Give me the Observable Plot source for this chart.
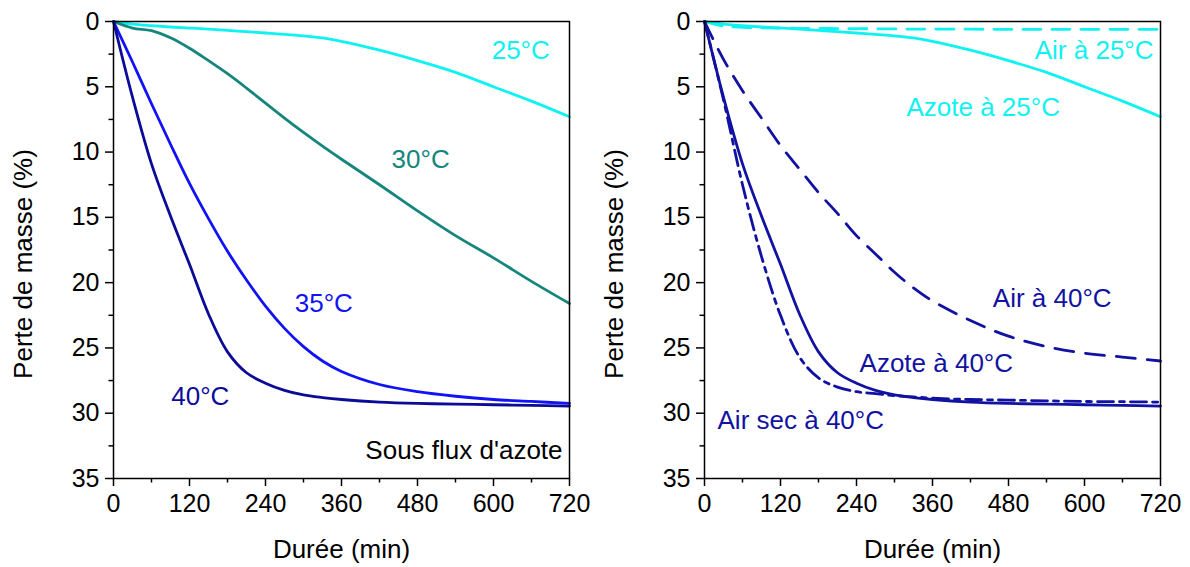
<!DOCTYPE html>
<html><head><meta charset="utf-8">
<script src="https://cdn.jsdelivr.net/npm/d3@7"></script>
<script src="https://cdn.jsdelivr.net/npm/@observablehq/plot@0.6"></script>
<style>
body{margin:0;background:#fff;}
#wrap{display:flex;width:1190px;height:567px;}
</style>
</head><body><div id="wrap"></div>
<script>
// Time grid (min)
const times    = [0, 30, 60, 90, 120, 150, 180, 210, 240, 270, 300, 330, 360, 420, 480, 540, 600, 660, 720];
// Mass loss (%) — under nitrogen
const azote25  = [0, 0.2, 0.32, 0.42, 0.5, 0.58, 0.68, 0.78, 0.88, 0.98, 1.1, 1.26, 1.52, 2.2, 3.0, 3.9, 5.0, 6.1, 7.3];
const azote30  = [0, 0.5, 0.7, 1.25, 2.05, 3.0, 4.0, 5.1, 6.25, 7.4, 8.5, 9.55, 10.55, 12.5, 14.5, 16.4, 18.1, 19.9, 21.6];
const azote35  = [0, 3.1, 6.3, 9.4, 12.4, 15.1, 17.6, 19.8, 21.8, 23.5, 24.9, 26.0, 26.8, 27.8, 28.35, 28.7, 28.95, 29.1, 29.25];
const azote40  = [0, 5.8, 10.9, 14.9, 18.6, 22.4, 25.3, 26.9, 27.7, 28.25, 28.6, 28.8, 28.95, 29.15, 29.25, 29.3, 29.35, 29.4, 29.45];
// Mass loss (%) — under air
const air25    = [0, 0.35, 0.45, 0.48, 0.5, 0.52, 0.53, 0.54, 0.55, 0.56, 0.57, 0.58, 0.58, 0.59, 0.6, 0.6, 0.6, 0.6, 0.6];
const air40    = [0, 2.9, 5.3, 7.4, 9.5, 11.3, 13.1, 14.7, 16.4, 17.8, 19.2, 20.4, 21.4, 22.9, 24.1, 24.9, 25.4, 25.7, 26.0];
const airSec40 = [0, 6.0, 12.5, 18.0, 22.5, 25.7, 27.3, 28.0, 28.35, 28.5, 28.65, 28.75, 28.85, 28.95, 29.0, 29.05, 29.1, 29.12, 29.15];

const xTicks = [0, 120, 240, 360, 480, 600, 720];
const xMinor = [60, 180, 300, 420, 540, 660];
const yTicks = [0, 5, 10, 15, 20, 25, 30, 35];
const yMinor = [2.5, 7.5, 12.5, 17.5, 22.5, 27.5, 32.5];

const xTitle = "Durée (min)";
const yTitle = "Perte de masse (%)";

const C = {cyan: "#0ff2f2", teal: "#14867c", blue: "#1212f6", navy: "#0b0b98", navy2: "#1212a2"};
const FONT = "'Liberation Sans', Arial, Helvetica, sans-serif";

const leftLabels = [
  {text: "25°C", t: 643, v: 2.2, color: C.cyan, anchor: "middle"},
  {text: "30°C", t: 485, v: 10.6, color: C.teal, anchor: "middle"},
  {text: "35°C", t: 332, v: 21.6, color: C.blue, anchor: "middle"},
  {text: "40°C", t: 137, v: 28.7, color: C.navy, anchor: "middle"},
  {text: "Sous flux d'azote", t: 709, v: 32.85, color: "black", anchor: "end"}
];
const rightLabels = [
  {text: "Air à 25°C", t: 709, v: 2.2, color: C.cyan, anchor: "end"},
  {text: "Azote à 25°C", t: 440, v: 6.6, color: C.cyan, anchor: "middle"},
  {text: "Air à 40°C", t: 549, v: 21.2, color: C.navy2, anchor: "middle"},
  {text: "Azote à 40°C", t: 366, v: 26.2, color: C.navy2, anchor: "middle"},
  {text: "Air sec à 40°C", t: 152, v: 30.6, color: C.navy2, anchor: "middle"}
];

function panel(series, labels, mLeft, mRight) {
  const marks = [
    Plot.axisX(xTicks, {tickSize: 8, tickPadding: 8, fontSize: 25, strokeWidth: 1.5, label: null}),
    Plot.axisX(xMinor, {tickSize: 4.5, strokeWidth: 1.5, tickFormat: () => "", label: null}),
    Plot.axisY(yTicks, {tickSize: 8, tickPadding: 6, fontSize: 25, strokeWidth: 1.5, label: null}),
    Plot.axisY(yMinor, {tickSize: 4.5, strokeWidth: 1.5, tickFormat: () => "", label: null}),
    Plot.text([xTitle], {frameAnchor: "bottom", text: d => d, dy: 71, fontSize: 26, lineAnchor: "middle", textAnchor: "middle", fill: "black"}),
    Plot.text([yTitle], {frameAnchor: "left", text: d => d, dx: -90, dy: 14, rotate: -90, fontSize: 26, lineAnchor: "middle", textAnchor: "middle", fill: "black"})
  ];
  for (const s of series) {
    marks.push(Plot.line(times, {x: times, y: s.values, stroke: s.color, strokeWidth: 2.8,
      curve: "catmull-rom", strokeDasharray: s.dash || null}));
  }
  for (const l of labels) {
    marks.push(Plot.text([l], {x: "t", y: "v", text: "text", fill: l.color, fontSize: 26,
      textAnchor: l.anchor, lineAnchor: "middle"}));
  }
  marks.push(Plot.frame({stroke: "black", strokeWidth: 1.5}));
  return Plot.plot({
    width: 595, height: 567,
    marginLeft: mLeft, marginRight: mRight, marginTop: 21, marginBottom: 89,
    x: {domain: [0, 720]},
    y: {domain: [0, 35], reverse: true},
    style: {fontFamily: FONT, fontSize: "25px", color: "black", background: "white", overflow: "visible"},
    marks
  });
}

const wrap = document.getElementById("wrap");
wrap.append(panel([
  {values: azote25, color: C.cyan},
  {values: azote30, color: C.teal},
  {values: azote35, color: C.blue},
  {values: azote40, color: C.navy}
], leftLabels, 113, 26));
wrap.append(panel([
  {values: air25, color: C.cyan, dash: "18,11"},
  {values: azote25, color: C.cyan},
  {values: air40, color: C.navy2, dash: "19,12"},
  {values: azote40, color: C.navy2},
  {values: airSec40, color: C.navy2, dash: "16,6,5,6"}
], rightLabels, 109, 30));
</script>
</body></html>
